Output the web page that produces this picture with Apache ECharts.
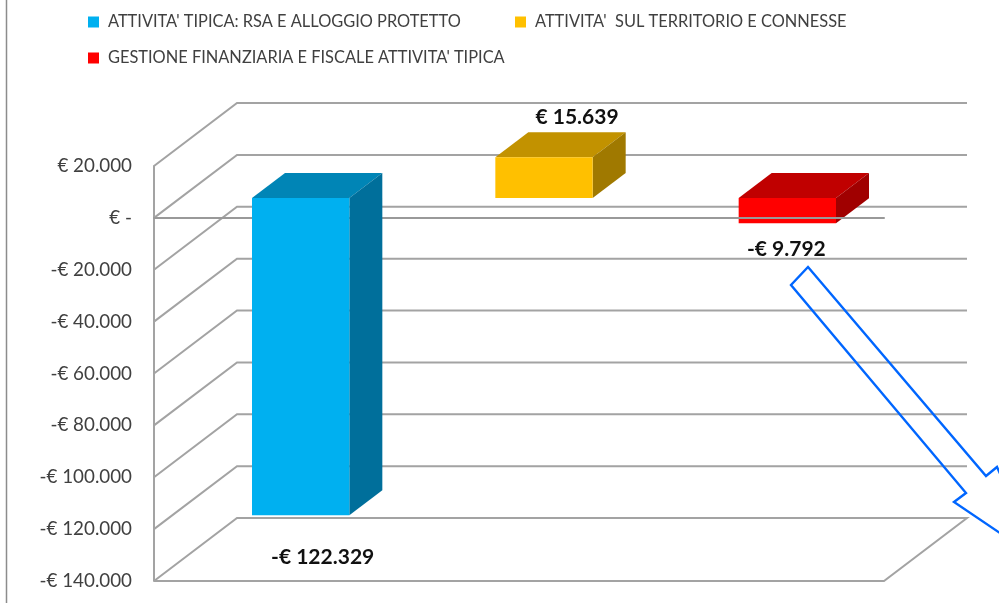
<!DOCTYPE html>
<html>
<head>
<meta charset="utf-8">
<style>
html, body { margin: 0; padding: 0; background: #fff; }
#chart { width: 999px; height: 603px; }
</style>
</head>
<body>
<div id="chart"></div>
<script src="https://cdn.jsdelivr.net/npm/echarts@6/dist/echarts.min.js"></script>
<script>
const categories = ["ATTIVITA' TIPICA: RSA E ALLOGGIO PROTETTO", "ATTIVITA'  SUL TERRITORIO E CONNESSE", "GESTIONE FINANZIARIA E FISCALE ATTIVITA' TIPICA"];
const values = [-122329, 15639, -9792];
const valueLabels = ["-€ 122.329", "€ 15.639", "-€ 9.792"];
const tickValues = [20000, 0, -20000, -40000, -60000, -80000, -100000, -120000, -140000];

const FONT = "Lato";
const GRID_COLOR = "#a3a3a3";
// profondita' del finto 3D: parete di fondo e barre
const WALL_DX = 83, WALL_DY = -63;
const BAR_DX = 25, BAR_DY = -20;
const SIDE_DX = 33, SIDE_DY = -25;

const chart = echarts.init(document.getElementById("chart"));

function money(v) {
    if (v === 0) return "€ -";
    const s = String(Math.abs(v)).replace(/\B(?=(\d{3})+$)/g, ".");
    return (v < 0 ? "-€ " : "€ ") + s;
}

function renderWall(params, api) {
    const v = api.value(1);
    const r = params.coordSys;
    const y = api.coord([0, v])[1];
    const line = { stroke: GRID_COLOR, lineWidth: 2, fill: null };
    const pts = [[r.x, y], [r.x + WALL_DX, y + WALL_DY], [r.x + r.width + WALL_DX, y + WALL_DY]];
    // il pavimento si chiude sul bordo anteriore
    if (v === tickValues[tickValues.length - 1]) {
        pts.push([r.x + r.width, y], [r.x, y]);
    }
    return { type: "polyline", shape: { points: pts }, style: line, silent: true };
}

function barSeries(i, colors, labelDx, labelDy, z) {
    return {
        name: categories[i],
        type: "custom",
        z: z,
        itemStyle: { color: colors[0] },
        data: [[i, values[i]]],
        renderItem: function (params, api) {
            const zero = api.coord([api.value(0), 0]);
            const end = api.coord([api.value(0), api.value(1)]);
            const w = api.size([1, 0])[0] * 0.4;
            const x0 = zero[0] - w / 2 + BAR_DX, x1 = x0 + w;
            const yA = zero[1] + BAR_DY, yB = end[1] + BAR_DY;
            const top = Math.min(yA, yB), bottom = Math.max(yA, yB);
            return {
                type: "group",
                children: [
                    { type: "polygon", shape: { points: [[x0, top], [x0 + SIDE_DX, top + SIDE_DY], [x1 + SIDE_DX, top + SIDE_DY], [x1, top]] }, style: { fill: colors[1] } },
                    { type: "polygon", shape: { points: [[x1, top], [x1 + SIDE_DX, top + SIDE_DY], [x1 + SIDE_DX, bottom + SIDE_DY], [x1, bottom]] }, style: { fill: colors[2] } },
                    { type: "rect", shape: { x: x0, y: top, width: w, height: bottom - top }, style: { fill: colors[0] } },
                    { type: "text", x: zero[0] + labelDx, y: end[1] + labelDy, style: { text: valueLabels[i], font: "bold 21px " + FONT, fill: "#111", textAlign: "center", textVerticalAlign: "middle" } }
                ]
            };
        }
    };
}

function legendAt(i, left, top) {
    return {
        data: [categories[i]],
        left: left,
        top: top,
        padding: 0,
        icon: "rect",
        itemWidth: 11,
        itemHeight: 11,
        selectedMode: false,
        textStyle: { fontFamily: FONT, fontSize: 16.4, color: "#404040", padding: [0, 0, 0, 4] }
    };
}

chart.setOption({
    animation: false,
    backgroundColor: "#fff",
    grid: { left: 154, right: 115, top: 166, bottom: 22 },
    legend: [legendAt(0, 88, 14), legendAt(1, 515, 14), legendAt(2, 88, 50)],
    xAxis: {
        type: "category",
        data: categories,
        z: 3,
        axisLine: { onZero: true, lineStyle: { color: "#999", width: 2 } },
        axisTick: { show: false },
        axisLabel: { show: false }
    },
    yAxis: {
        type: "value",
        min: -140000,
        max: 20000,
        interval: 20000,
        axisLine: { show: true, lineStyle: { color: GRID_COLOR, width: 2 } },
        axisTick: { show: false },
        splitLine: { show: false },
        axisLabel: { margin: 22, padding: [2, 0, 0, 0], fontFamily: FONT, fontSize: 18.8, color: "#404040", formatter: money }
    },
    series: [
        { type: "custom", z: 1, silent: true, data: tickValues.map(v => [0, v]), renderItem: renderWall },
        barSeries(0, ["#00b0f0", "#0085b6", "#006f9b"], 47, 22, 5),
        barSeries(1, ["#ffc000", "#c29200", "#a07900"], 58, -60, 5),
        barSeries(2, ["#ff0000", "#c00000", "#a00000"], 24, 6, 2)
    ],
    graphic: [
        { type: "line", shape: { x1: 6.5, y1: 0, x2: 6.5, y2: 603 }, style: { stroke: "#8c8c8c", lineWidth: 1.5 }, silent: true },
        { type: "polygon", z: 10, shape: { points: [[808, 267], [986, 476], [997, 467], [1040, 560], [954, 502], [966, 493], [791, 285]] }, style: { fill: null, stroke: "#0066ff", lineWidth: 2.4 }, silent: true }
    ]
});
</script>
</body>
</html>
